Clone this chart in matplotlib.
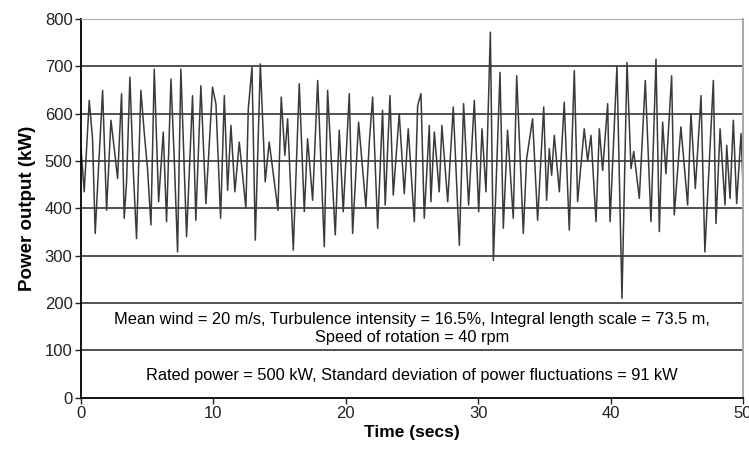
import matplotlib.pyplot as plt

plt.rcParams['font.family'] = ['Liberation Sans', 'DejaVu Sans']

# Peaks and troughs of the power trace (time s, kW)
time_s = [
    0.0, 0.25, 0.63, 0.88, 1.08, 1.33, 1.64, 1.94, 2.27, 2.52, 2.77, 3.07, 3.27, 3.45, 3.70, 3.95, 4.20, 4.53, 4.78,
    5.03, 5.29, 5.54, 5.87, 6.22, 6.47, 6.80, 7.05, 7.30, 7.55, 7.98, 8.43, 8.68, 9.06, 9.44, 9.94,
    10.20, 10.55, 10.83, 11.08, 11.33, 11.63, 11.96, 12.46, 12.64, 12.92, 13.17, 13.55, 13.92, 14.22, 14.88, 15.13,
    15.40, 15.61, 16.04, 16.49, 16.87, 17.12, 17.50, 17.88, 18.38, 18.63, 19.21, 19.51, 19.81, 20.27, 20.52,
    20.97, 21.52, 21.78, 22.03, 22.41, 22.78, 22.98, 23.34, 23.59, 24.04, 24.42, 24.72, 25.18, 25.43, 25.68, 25.93,
    26.31, 26.43, 26.69, 27.06, 27.26, 27.70, 28.12, 28.58, 28.90, 29.28, 29.71, 30.04, 30.29, 30.59, 30.92, 31.15,
    31.65, 31.90, 32.22, 32.65, 32.91, 33.41, 33.66, 34.11, 34.49, 34.95, 35.17, 35.37, 35.55, 35.75, 36.13, 36.50,
    36.88, 37.26, 37.51, 38.01, 38.27, 38.52, 38.90, 39.15, 39.40, 39.78, 39.96, 40.48, 40.86, 41.24, 41.54, 41.75,
    42.17, 42.62, 43.05, 43.43, 43.68, 43.93, 44.18, 44.61, 44.81, 45.31, 45.82, 46.07, 46.40, 46.83, 47.12,
    47.76, 47.96, 48.27, 48.64, 48.77, 49.02, 49.27, 49.52, 49.85, 50.0,
]
power_kw = [
    530, 435, 628, 547, 347, 484, 649, 396, 586, 526, 463, 642, 379, 456, 677, 484, 336, 649, 561,
    484, 365, 694, 414, 561, 372, 673, 505, 308, 694, 340, 638, 375, 659, 410, 656,
    620, 379, 638, 438, 575, 435, 540, 400, 610, 698, 333, 705, 456, 540, 396, 635,
    512, 589, 312, 663, 393, 547, 417, 670, 319, 649, 344, 565, 393, 642, 347,
    582, 403, 540, 635, 358, 607, 407, 638, 428, 600, 431, 568, 372, 617, 642, 379,
    575, 414, 561, 435, 575, 414, 614, 322, 621, 407, 628, 393, 568, 435, 772, 290,
    687, 358, 565, 379, 680, 347, 505, 589, 375, 614, 417, 526, 470, 554, 435, 624,
    354, 691, 414, 568, 500, 554, 372, 568, 480, 621, 372, 701, 210, 708, 484, 520,
    421, 670, 372, 715, 351, 582, 473, 680, 386, 572, 407, 600, 442, 638, 308,
    670, 368, 568, 407, 533, 421, 586, 410, 558, 450,
]

y_ticks = [0, 100, 200, 300, 400, 500, 600, 700, 800]
x_ticks = [0, 10, 20, 30, 40, 50]

fig = plt.figure(figsize=(7.49, 4.5), dpi=100)
ax = fig.add_axes([0.108, 0.116, 0.884, 0.842])

for y in y_ticks[1:-1]:
    ax.axhline(y, color='#222222', linewidth=1.1, zorder=1)

ax.plot(time_s, power_kw, color='#3a3a3a', linewidth=1.1, zorder=2)

ax.text(25, 165, 'Mean wind = 20 m/s, Turbulence intensity = 16.5%, Integral length scale = 73.5 m,',
        ha='center', va='center', fontsize=11.8)
ax.text(25, 128, 'Speed of rotation = 40 rpm', ha='center', va='center', fontsize=11.8)
ax.text(25, 48, 'Rated power = 500 kW, Standard deviation of power fluctuations = 91 kW',
        ha='center', va='center', fontsize=11.8)

ax.set_xlim(0, 50)
ax.set_ylim(0, 800)
ax.set_xticks(x_ticks)
ax.set_yticks(y_ticks)
ax.tick_params(direction='out', length=4, width=1, labelsize=12, colors='#222222', pad=2)
ax.set_xlabel('Time (secs)', fontsize=12.5, fontweight='bold', labelpad=3)
ax.set_ylabel('Power output (kW)', fontsize=13.5, fontweight='bold', labelpad=6)

ax.spines['left'].set_linewidth(1.3)
ax.spines['bottom'].set_linewidth(1.3)
ax.spines['top'].set_color('#aaaaaa')
ax.spines['right'].set_color('#aaaaaa')
ax.spines['right'].set_linewidth(1.5)

plt.savefig('out.png', dpi=100)
plt.close()
